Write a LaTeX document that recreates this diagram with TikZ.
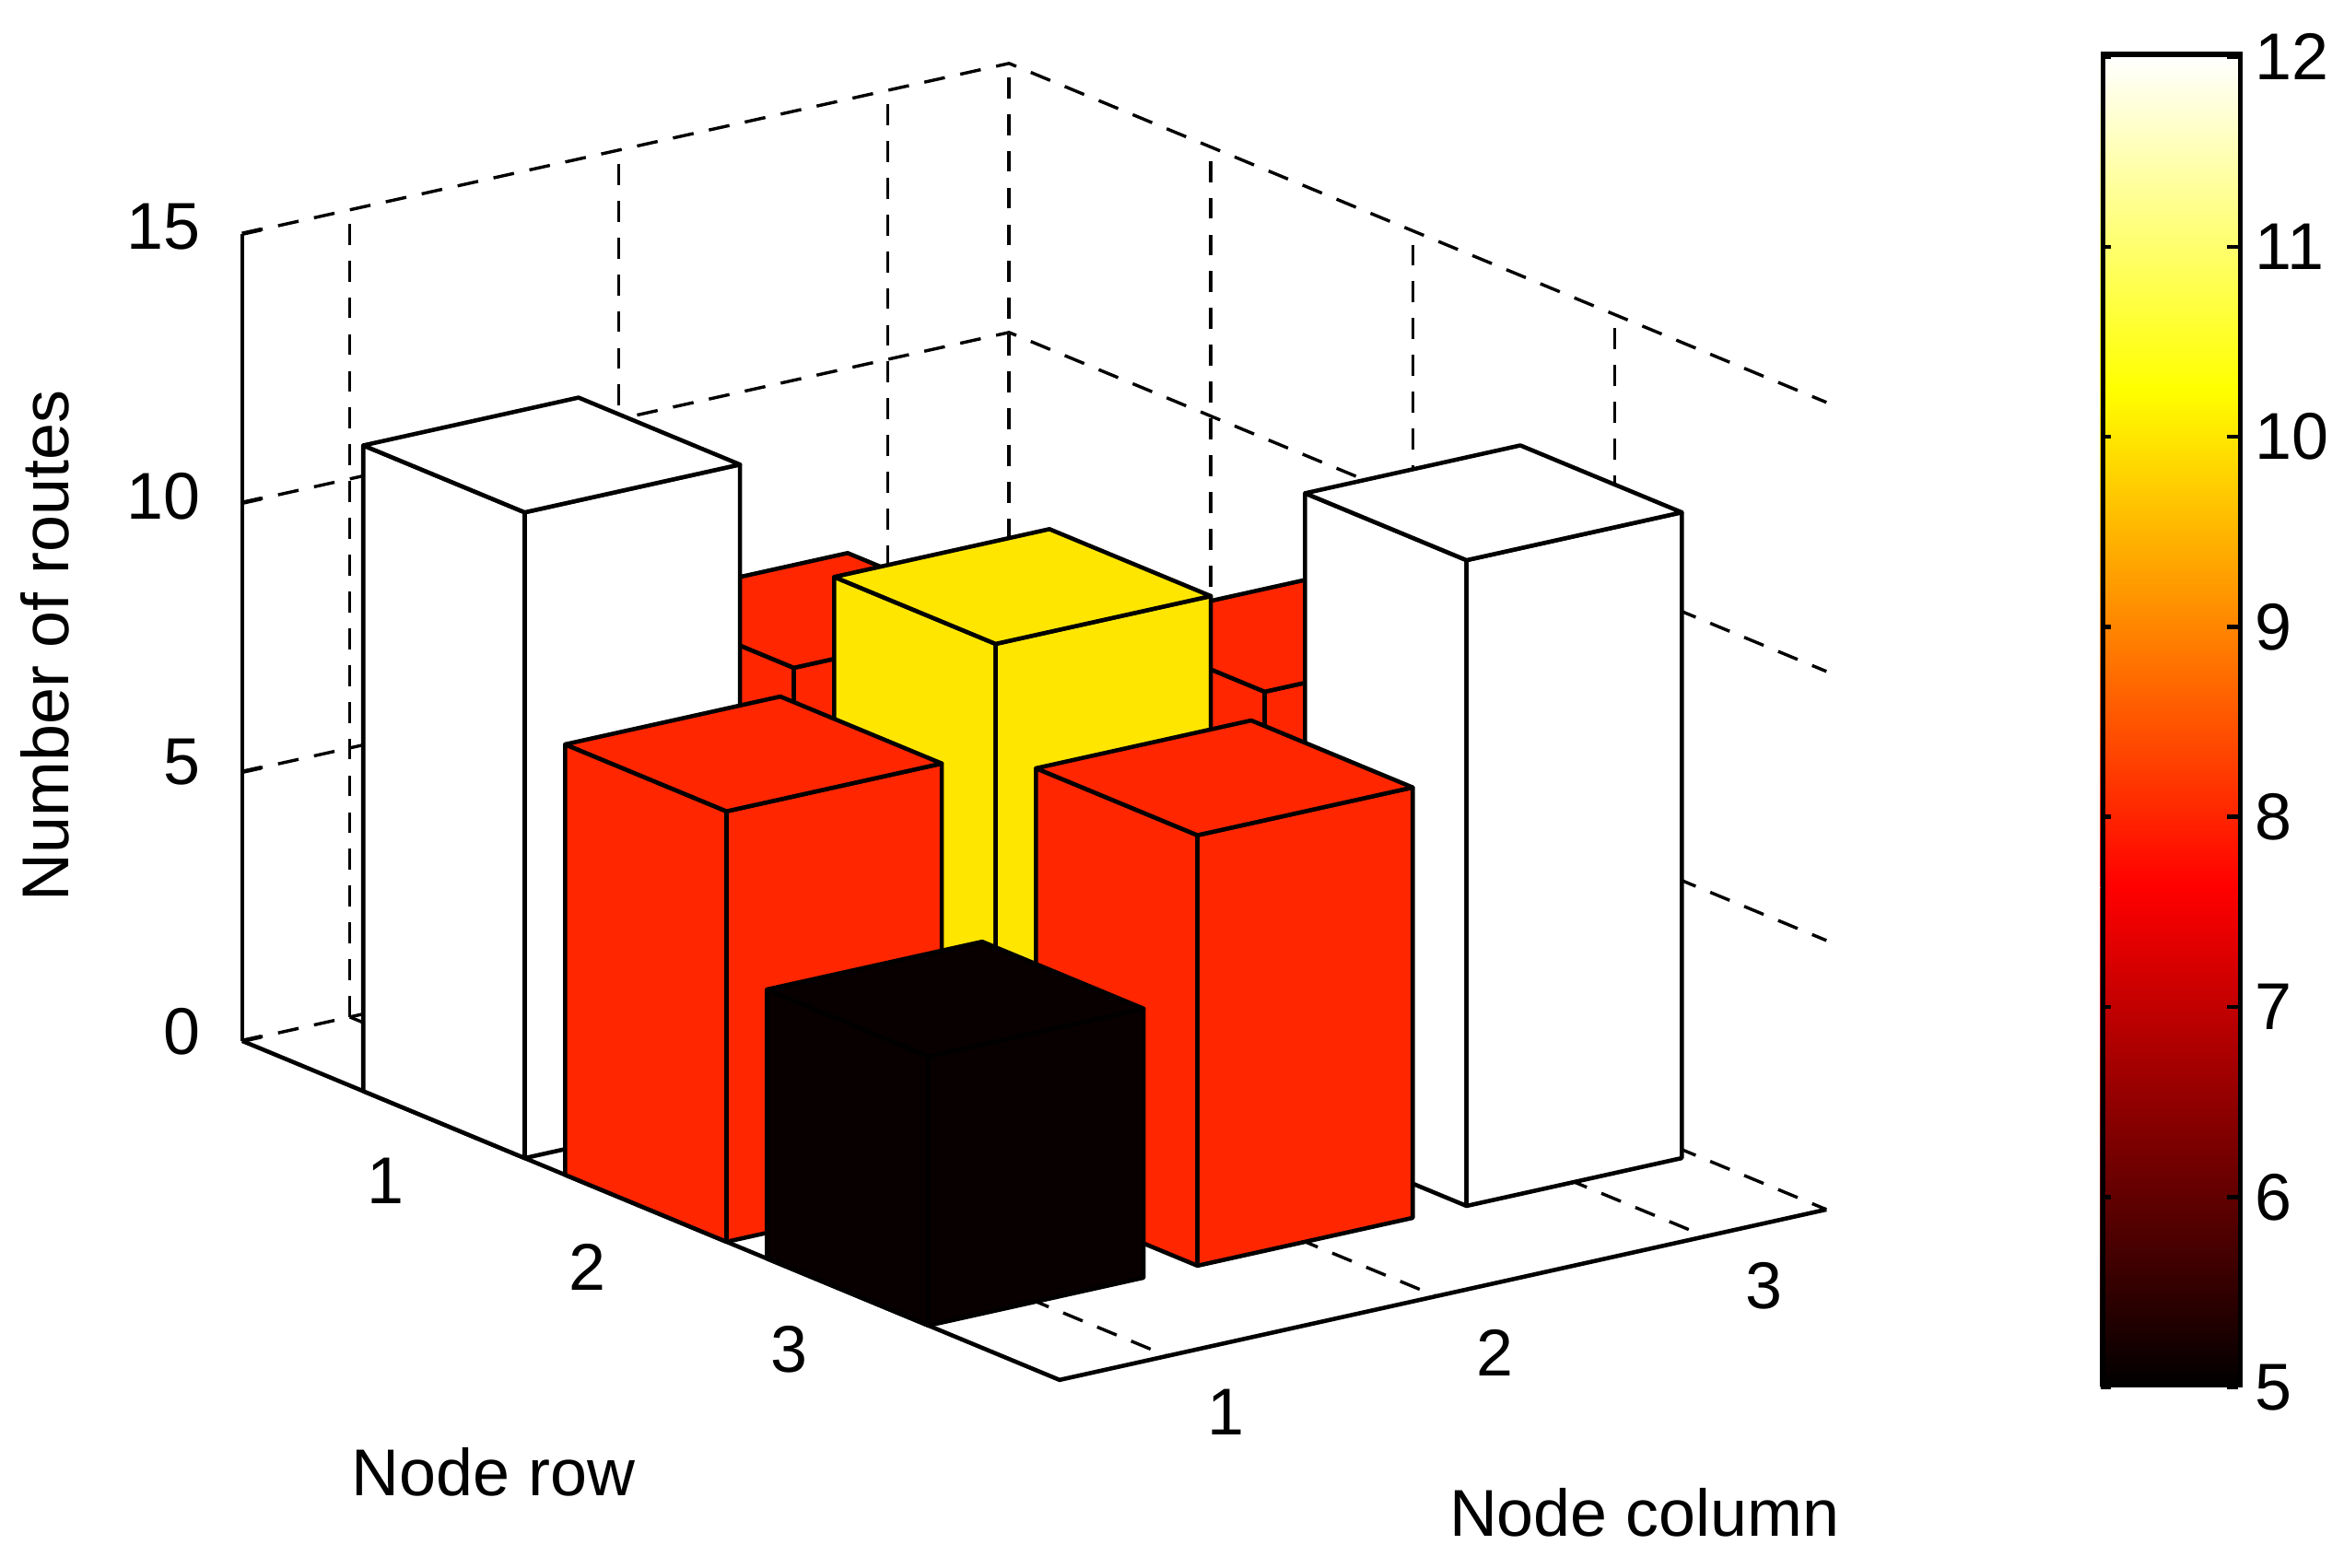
\documentclass[tikz,border=0pt]{standalone}
\usepackage{fontspec}
\setmainfont{Liberation Sans}
\begin{document}
\begin{tikzpicture}[
  lbl/.style={inner sep=0pt,font=\fontsize{12.6}{15}\selectfont},
  grd/.style={dash pattern=on 4pt off 3pt,line width=0.6pt},
  ax/.style={line width=0.8pt},
  face/.style={draw=black,line width=0.8pt,line join=round}]
\definecolor{hotwhite}{RGB}{255,255,255}
\definecolor{hotyellow}{RGB}{255,230,0}
\definecolor{hotred}{RGB}{255,38,0}
\definecolor{hotblack}{RGB}{8,0,0}
\useasboundingbox (0,0) rectangle (15.68,-10.49);
\newcommand{\drawbar}[4]{%
  \filldraw[face,fill=#4] (#1,#2,0) -- ({#1+0.8},#2,0) -- ({#1+0.8},#2,#3) -- (#1,#2,#3) -- cycle;
  \filldraw[face,fill=#4] ({#1+0.8},#2,0) -- ({#1+0.8},{#2+0.8},0) -- ({#1+0.8},{#2+0.8},#3) -- ({#1+0.8},#2,#3) -- cycle;
  \filldraw[face,fill=#4] (#1,#2,#3) -- ({#1+0.8},#2,#3) -- ({#1+0.8},{#2+0.8},#3) -- (#1,{#2+0.8},#3) -- cycle;}
\begin{scope}[shift={(2.43,-7.30)},x={(1.35cm,-0.56cm)},y={(1.80cm,0.40cm)},z={(0cm,0.36cm)}]
  \foreach \h in {0,5,10,15}{
    \draw[grd] (-0.6,0,\h) -- (-0.6,2.85,\h) -- (3.45,2.85,\h);}
  \foreach \b in {0.4,1.4,2.4}{
    \draw[grd] (-0.6,\b,0) -- (-0.6,\b,15);
    \draw[grd] (-0.6,\b,0) -- (3.45,\b,0);}
  \draw[grd] (-0.6,2.85,0) -- (-0.6,2.85,15);
  \foreach \a in {0.4,1.4,2.4}{
    \draw[grd] (\a,2.85,0) -- (\a,2.85,15);
    \draw[grd] (\a,0,0) -- (\a,2.85,0);}
  \coordinate (z0) at (-0.6,0,0);
  \coordinate (z15) at (-0.6,0,15);
  \coordinate (af) at (3.45,0,0);
  \coordinate (bf) at (3.45,2.85,0);
  \draw[ax] (z0) -- (z15);
  \draw[ax] (z0) -- (af) -- (bf);
  \foreach \h in {0,5,10,15}{\draw[ax] (-0.6,0,\h) -- (-0.6,0.07,\h);}
  \drawbar{0}{2}{5}{hotblack}
  \drawbar{0}{1}{8}{hotred}
  \drawbar{1}{2}{8}{hotred}
  \drawbar{0}{0}{12}{hotwhite}
  \drawbar{1}{1}{10}{hotyellow}
  \drawbar{2}{2}{12}{hotwhite}
  \drawbar{1}{0}{8}{hotred}
  \drawbar{2}{1}{8}{hotred}
  \drawbar{2}{0}{5}{hotblack}
\end{scope}
\node[lbl,anchor=east] (t0) at (1.35,-6.90) {0};
\node[lbl,anchor=east] (t5) at (1.35,-5.10) {5};
\node[lbl,anchor=east] (t10) at (1.35,-3.32) {10};
\node[lbl,anchor=east] (t15) at (1.35,-1.52) {15};
\node[lbl] (r1) at (2.58,-7.90) {1};
\node[lbl] (r2) at (3.93,-8.48) {2};
\node[lbl] (r3) at (5.28,-9.03) {3};
\node[lbl] (c1) at (8.20,-9.45) {1};
\node[lbl] (c2) at (10.00,-9.05) {2};
\node[lbl] (c3) at (11.80,-8.60) {3};
\node[lbl,rotate=90] (zl) at (0.30,-4.32) {Number of routes};
\node[lbl] (xl) at (3.30,-9.85) {Node row};
\node[lbl] (yl) at (11.00,-10.12) {Node column};
\shade[bottom color=black,top color=red] (14.05,-9.28) rectangle (14.97,-5.94);
\shade[bottom color=red,top color=yellow] (14.05,-5.94) rectangle (14.97,-2.60);
\shade[bottom color=yellow,top color=white] (14.05,-2.60) rectangle (14.97,-0.38);
\node[draw=black,line width=0.9pt,minimum width=0.92cm,minimum height=8.90cm,inner sep=0pt,anchor=south west] (cb) at (14.05,-9.28) {};
\foreach \v [count=\i from 0] in {5,6,7,8,9,10,11,12}{
  \pgfmathsetmacro{\yy}{-9.28+\i*8.90/7}
  \draw[line width=0.8pt] (14.05,\yy) -- (14.12,\yy);
  \draw[line width=0.8pt] (14.97,\yy) -- (14.90,\yy);
  \node[lbl,anchor=west] (cl\v) at (15.08,\yy) {\v};}
\end{tikzpicture}
\end{document}
